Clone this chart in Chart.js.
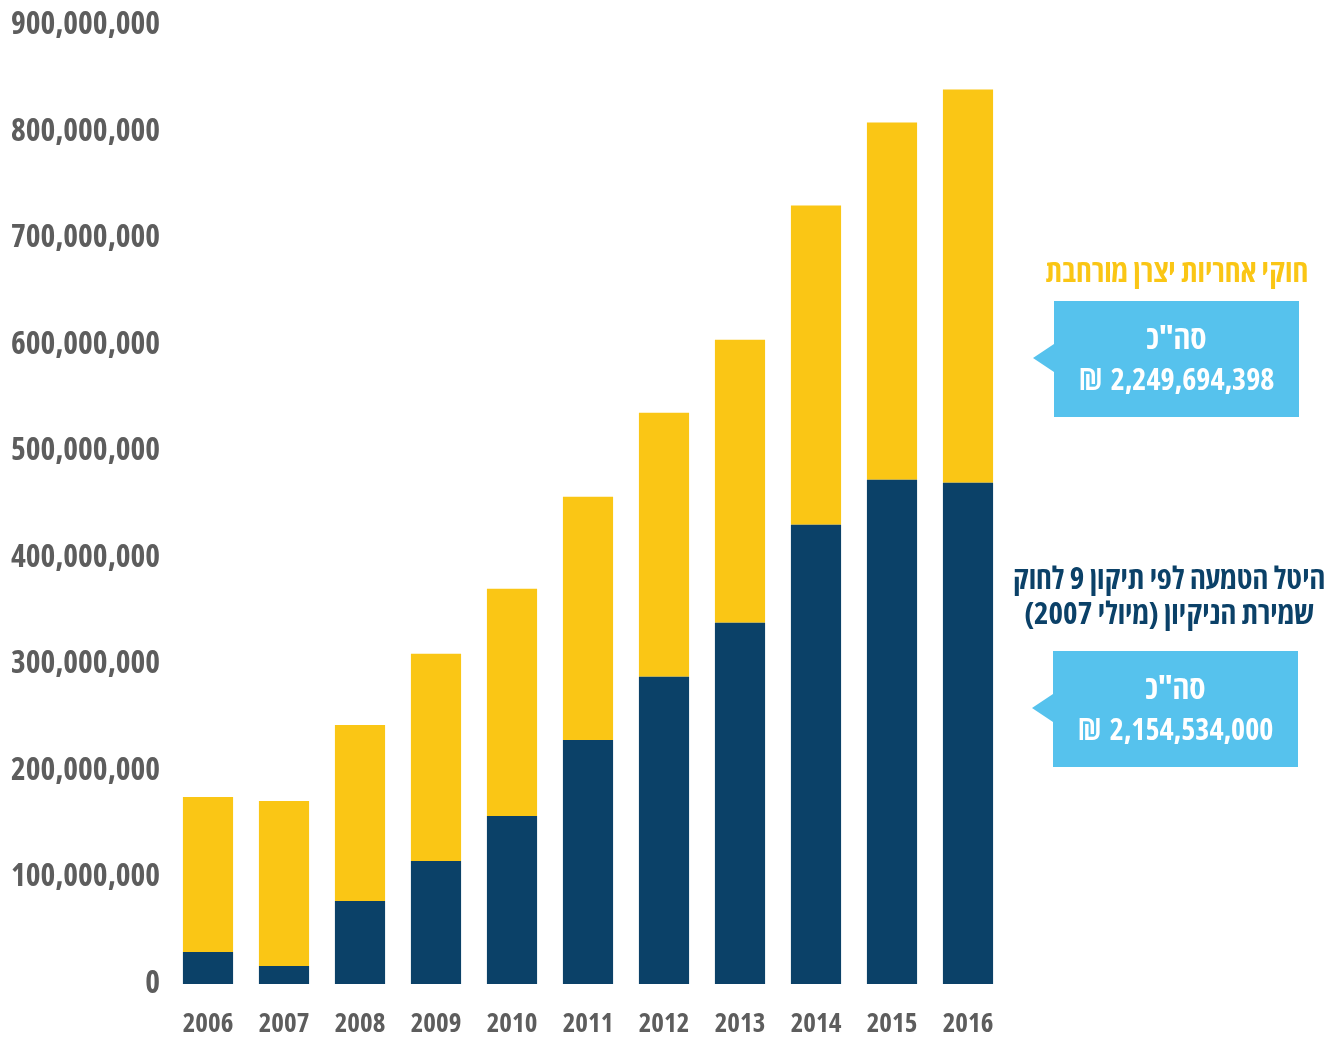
<!DOCTYPE html>
<html lang="he">
<head>
<meta charset="utf-8">
<script src="https://cdn.jsdelivr.net/npm/chart.js@4"></script>
<style>
  html, body { margin: 0; padding: 0; background: #fff; }
  #wrap { position: relative; width: 1336px; height: 1038px; }
  canvas { position: absolute; left: 0; top: 0; }
  .note {
    position: absolute;
    font-family: "Open Sans", "Liberation Sans", sans-serif;
    font-weight: bold;
    font-stretch: 75%;
    text-align: center;
    direction: rtl;
    white-space: nowrap;
  }
  .box {
    position: absolute;
    background: #56c2ed;
    color: #fff;
  }
  .box::before {
    content: "";
    position: absolute;
    left: -21px;
    top: 43px;
    border-top: 14px solid transparent;
    border-bottom: 14px solid transparent;
    border-right: 21px solid #56c2ed;
  }
  .box .t1 { position: absolute; left: 0; right: 0; top: 16px; line-height: 40px; font-size: 33px; }
  .box .t2 { position: absolute; left: 0; right: 0; top: 60px; line-height: 36px; font-size: 30px; direction: ltr; word-spacing: 3px; }
</style>
</head>
<body>
<div id="wrap">
  <canvas id="chart" width="1336" height="1038"></canvas>

  <div class="note" style="left:1020px; width:314px; top:252px; line-height:36px; font-size:31px; color:#fac615;">חוקי אחריות יצרן מורחבת</div>
  <div class="note box" style="left:1054px; top:301px; width:245px; height:116px;">
    <div class="t1">סה"כ</div>
    <div class="t2">₪ 2,249,694,398</div>
  </div>

  <div class="note" style="left:1004px; width:330px; top:560px; font-size:31px; line-height:35px; color:#0b4168;">היטל הטמעה לפי תיקון 9 לחוק<br>שמירת הניקיון (מיולי 2007)</div>
  <div class="note box" style="left:1053px; top:651px; width:245px; height:116px;">
    <div class="t1">סה"כ</div>
    <div class="t2">₪ 2,154,534,000</div>
  </div>
</div>

<script>
// years on the x axis
const years = ['2006', '2007', '2008', '2009', '2010', '2011', '2012', '2013', '2014', '2015', '2016'];

// levy by amendment 9 to the cleanliness law (dark, bottom)
const levyValues = [30000000, 17000000, 78000000, 115500000, 157700000, 229100000, 288300000, 339000000, 431000000, 473200000, 470400000];

// extended producer responsibility laws (yellow, stacked on top)
const eprValues = [145600000, 154800000, 165000000, 194400000, 213200000, 228200000, 247900000, 265700000, 299500000, 335300000, 369000000];

// y axis range
const yMax = 900000000;
const yStep = 100000000;

const darkBlue = '#0b4168';
const yellow = '#fac615';
const labelGray = '#5d5d5d';
const labelFont = '"Open Sans", "Liberation Sans", sans-serif';

const ctx = document.getElementById('chart').getContext('2d');

new Chart(ctx, {
  type: 'bar',
  data: {
    labels: years,
    datasets: [
      {
        label: 'היטל הטמעה',
        data: levyValues,
        backgroundColor: darkBlue,
        borderWidth: 0,
      },
      {
        label: 'חוקי אחריות יצרן מורחבת',
        data: eprValues,
        backgroundColor: yellow,
        borderWidth: 0,
      },
    ],
  },
  options: {
    responsive: false,
    animation: false,
    layout: {
      padding: { top: 25, right: 330, bottom: 0, left: 0 },
    },
    datasets: {
      bar: {
        barPercentage: 0.66,
        categoryPercentage: 1,
      },
    },
    scales: {
      x: {
        stacked: true,
        grid: { display: false, drawTicks: false },
        border: { display: false },
        ticks: {
          color: labelGray,
          padding: 24,
          // "condensed" rides along in the font string so the canvas picks the narrow width
          font: { family: labelFont, size: 27, weight: 'bold condensed' },
          maxRotation: 0,
        },
        afterFit: (scale) => { scale.height = 54; },
      },
      y: {
        stacked: true,
        min: 0,
        max: yMax,
        grid: { display: false, drawTicks: false },
        border: { display: false },
        ticks: {
          stepSize: yStep,
          color: labelGray,
          padding: 10,
          font: { family: labelFont, size: 31.5, weight: 'bold condensed', lineHeight: 1 },
          callback: (v) => v.toLocaleString('en-US'),
        },
        afterFit: (scale) => {
          scale.width = 170;
          scale.paddingTop = 0;
          scale.paddingBottom = 0;
        },
      },
    },
    plugins: {
      legend: { display: false },
      tooltip: { enabled: false },
    },
  },
});
</script>
</body>
</html>
